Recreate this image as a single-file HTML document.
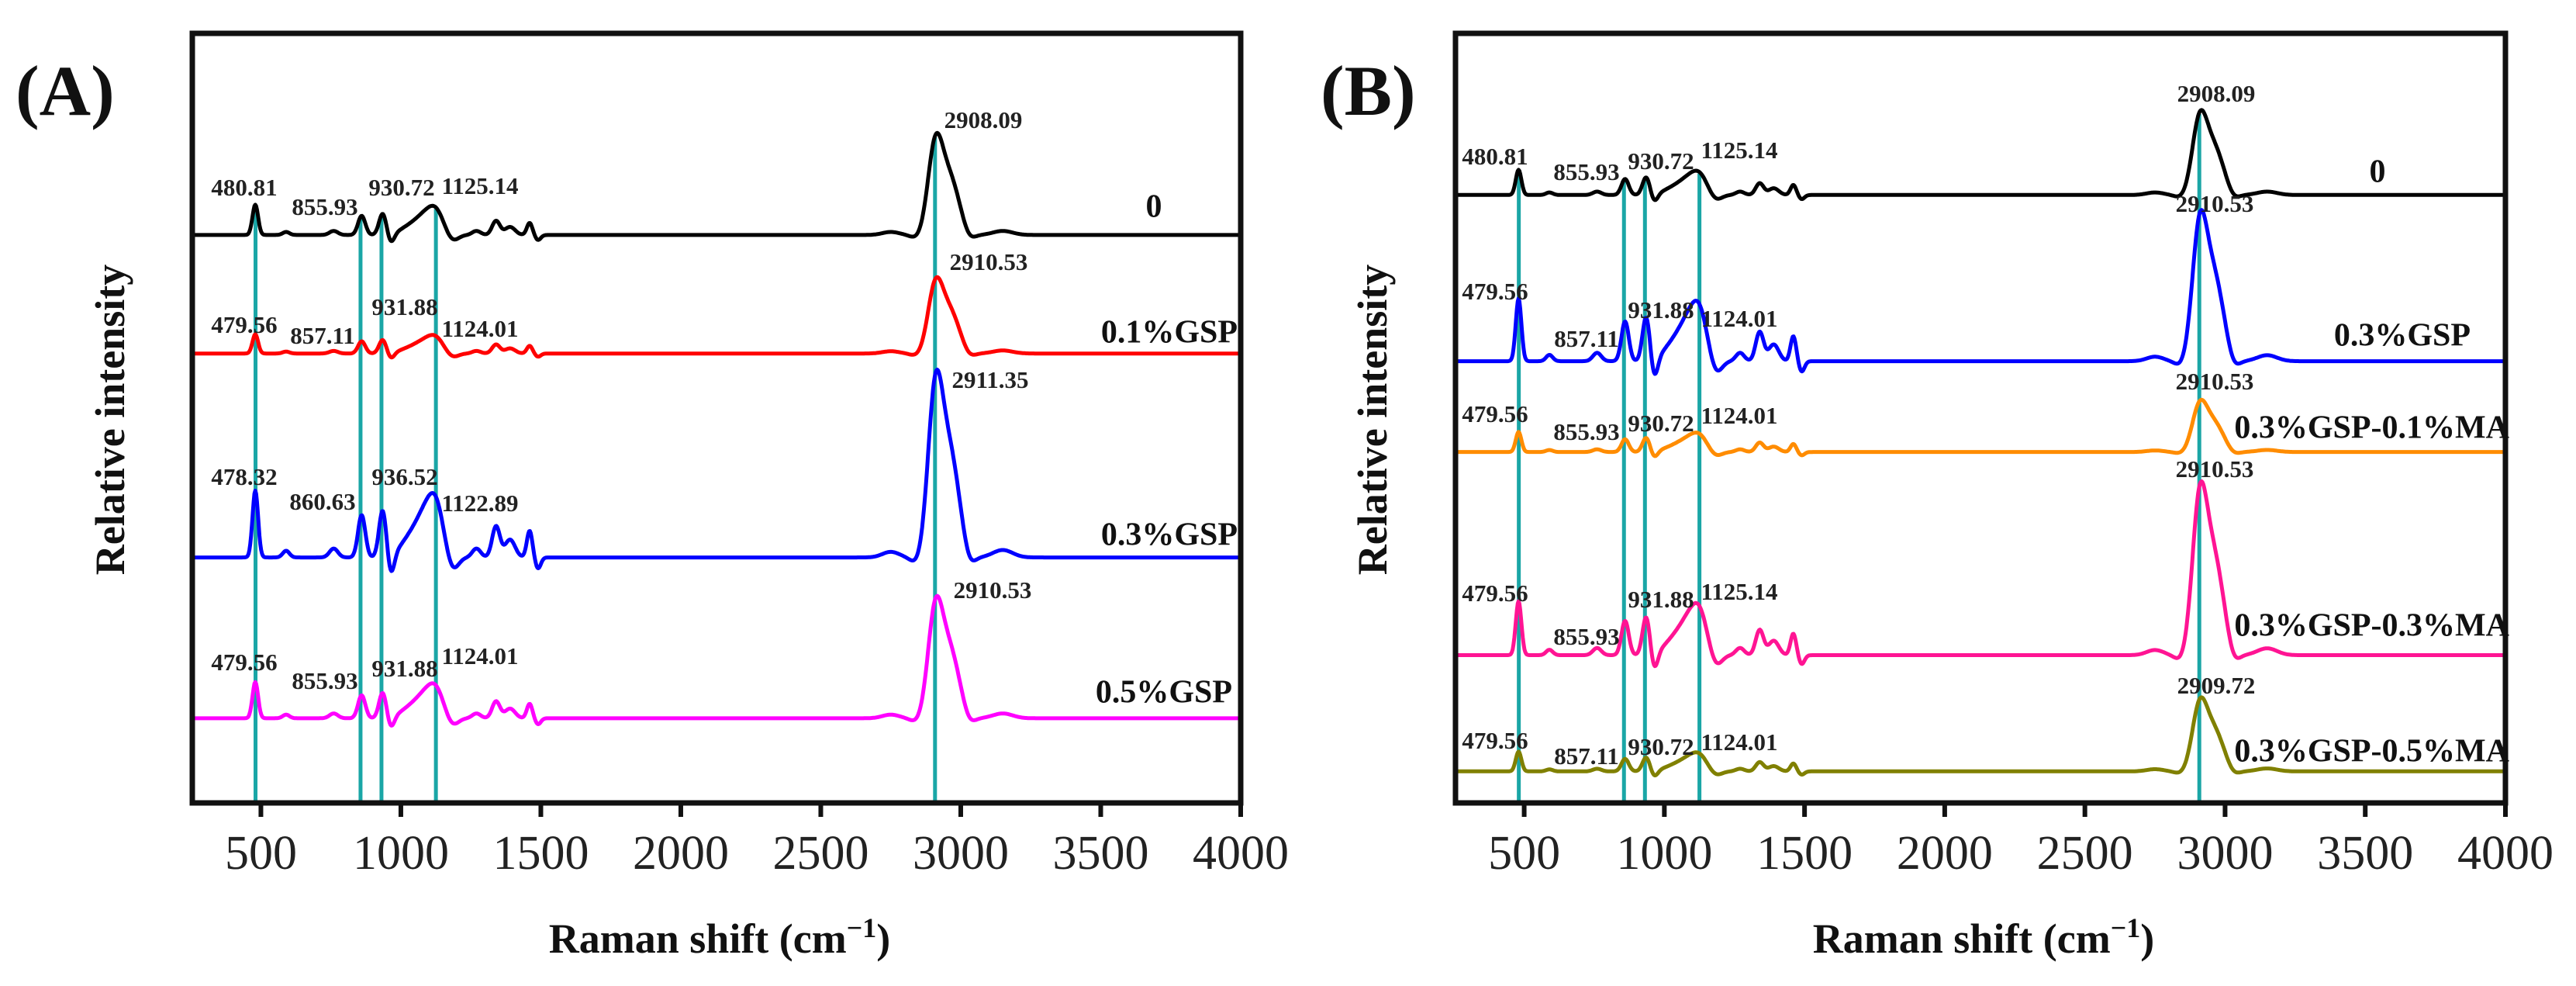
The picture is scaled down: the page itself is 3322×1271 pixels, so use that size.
<!DOCTYPE html>
<html><head><meta charset="utf-8"><style>
html,body{margin:0;padding:0;background:#fff}
svg{display:block}
text{font-family:"Liberation Serif",serif}
</style></head><body>
<svg id="chart" width="3322" height="1271" viewBox="0 0 3322 1271" xmlns="http://www.w3.org/2000/svg"></svg>
<script>
// ---- data ----
const peakPos   = [480, 590, 760, 860, 935, 965, 1040, 1100, 1130, 1185, 1270, 1340, 1390, 1460, 1490, 2750, 2840, 2908, 2960, 3030, 3150];
const peakWidth = [10, 12, 15, 13, 13, 12, 40, 35, 25, 20, 15, 14, 18, 10, 10, 30, 20, 26, 35, 20, 35];
const peakShape = [0.30, 0.03, 0.04, 0.19, 0.21, -0.09, 0.09, 0.19, 0.12, -0.06, 0.04, 0.14, 0.08, 0.12, -0.05, 0.03, -0.03, 0.80, 0.55, -0.06, 0.04];

const seriesA = ["0", "0.1%GSP", "0.3%GSP", "0.5%GSP"];
const baselineA = [73.8, 58.4, 31.9, 11.0];
const mainHeightA = [13.1, 9.8, 24.1, 15.7];
const fingerprintScaleA = [1.0, 0.85, 1.2, 1.0];
const colorsA = ["#000000", "#ff0000", "#0000ff", "#ff00ff"];

const seriesB = ["0", "0.3%GSP", "0.3%GSP-0.1%MA", "0.3%GSP-0.3%MA", "0.3%GSP-0.5%MA"];
const baselineB = [79.0, 57.4, 45.6, 19.2, 4.1];
const mainHeightB = [10.9, 19.4, 6.7, 22.3, 9.5];
const fingerprintScaleB = [1.0, 1.4, 1.3, 1.05, 0.9];
const colorsB = ["#000000", "#0000ff", "#ff8c00", "#ff1493", "#808000"];

const xTicks = [500, 1000, 1500, 2000, 2500, 3000, 3500, 4000];
const markerLines = [480.81, 855.93, 930.72, 1125.14, 2908.09];

const annA = [
 ["480.81",315,245],["855.93",419,270],["930.72",518,245],["1125.14",619,243],["2908.09",1268,158],
 ["479.56",315,422],["857.11",416,436],["931.88",522,399],["1124.01",619,427],["2910.53",1275,341],
 ["478.32",315,618],["860.63",416,650],["936.52",522,618],["1122.89",619,652],["2911.35",1277,493],
 ["479.56",315,857],["855.93",419,881],["931.88",522,865],["1124.01",619,849],["2910.53",1280,764]
];
const annB = [
 ["480.81",1928,205],["855.93",2046,225],["930.72",2142,211],["1125.14",2243,197],["2908.09",2858,124],
 ["479.56",1928,379],["857.11",2046,440],["931.88",2142,403],["1124.01",2243,414],["2910.53",2856,266],
 ["479.56",1928,537],["855.93",2046,560],["930.72",2142,549],["1124.01",2243,539],["2910.53",2856,495],
 ["479.56",1928,768],["855.93",2046,824],["931.88",2142,776],["1125.14",2243,766],["2910.53",2856,608],
 ["479.56",1928,958],["857.11",2046,978],["930.72",2142,966],["1124.01",2243,960],["2909.72",2858,887]
];
const labelPosA = [[1488,270,"middle"],[1596,432,"end"],[1596,693,"end"],[1589,896,"end"]];
const labelPosB = [[3066,225,"middle"],[3186,436,"end"],[3236,555,"end"],[3236,810,"end"],[3236,972,"end"]];

// ---- drawing ----
const NS = "http://www.w3.org/2000/svg";
const svg = document.getElementById("chart");
function mk(tag, attrs, parent){
  const e = document.createElementNS(NS, tag);
  for (const k in attrs) e.setAttribute(k, attrs[k]);
  (parent||svg).appendChild(e);
  return e;
}
const XMIN = 255, XMAX = 4000, TOP = 43, BOT = 1035;
function yScale(v){ return BOT - v/100*(BOT-TOP); }
function intensity(x, base, main, fp){
  let s = base;
  for (let i=0;i<peakPos.length;i++){
    const d = (x-peakPos[i])/peakWidth[i];
    const amp = peakShape[i]*main*(i<=14?fp:1);
    s += amp*Math.exp(-0.5*d*d);
  }
  return s;
}

function panel(id, L, R, series, base, mains, fps, colors, ann, labelPos, letter, letterX, yTitleX){
  const g = mk("g", {});
  
  
  const xs = v => L + (v-XMIN)/(XMAX-XMIN)*(R-L);
  markerLines.forEach((m,i)=>{
    const yTop = yScale(intensity(m, base[0], mains[0], fps[0])) + 2;
    const ln = mk("line", {x1:xs(m), x2:xs(m), y1:yTop, y2:BOT, stroke:"#1aa6a6", "stroke-width":5}, g);
    
    
  });
  series.forEach((name,si)=>{
    let d = "";
    for (let x=XMIN; x<=XMAX; x+=3){
      const y = yScale(intensity(x, base[si], mains[si], fps[si]));
      d += (d?"L":"M") + xs(x).toFixed(1) + "," + y.toFixed(1);
    }
    const p = mk("path", {d:d, fill:"none", stroke:colors[si], "stroke-width":5, "stroke-linejoin":"round"}, g);
    
    
    const lp = labelPos[si];
    const t = mk("text", {x:lp[0], y:lp[1], "text-anchor":lp[2], "dominant-baseline":"middle", "font-size":42, "font-weight":"bold", fill:"#111"}, g);
    t.textContent = name;
    
    
  });
  ann.forEach(a=>{
    const t = mk("text", {x:a[1], y:a[2], "text-anchor":"middle", "dominant-baseline":"middle", "font-size":31, "font-weight":"bold", fill:"#222"}, g);
    t.textContent = a[0];
    
    
  });
  const fr = mk("rect", {x:L, y:TOP, width:R-L, height:BOT-TOP, fill:"none", stroke:"#111", "stroke-width":7}, g);
  
  
  xTicks.forEach(v=>{
    const tk = mk("line", {x1:xs(v), x2:xs(v), y1:BOT, y2:BOT+18, stroke:"#111", "stroke-width":6}, g);
    
    
    const tl = mk("text", {x:xs(v), y:1120, "text-anchor":"middle", "font-size":62, fill:"#222"}, g);
    tl.textContent = v;
    
    
  });
  const xt = mk("text", {x:(L+R)/2+4, y:1228, "text-anchor":"middle", "font-size":54, "font-weight":"bold", fill:"#111"}, g);
  xt.innerHTML = 'Raman shift (cm<tspan dy="-20" font-size="36">−1</tspan><tspan dy="20">)</tspan>';
  
  
  const yt = mk("text", {x:0, y:0, transform:"translate("+(yTitleX)+",541) rotate(-90)", "text-anchor":"middle", "font-size":54, "font-weight":"bold", fill:"#111"}, g);
  yt.textContent = "Relative intensity";
  
  
  const lt = mk("text", {x:letterX, y:148, "font-size":92, "font-weight":"bold", fill:"#111"}, g);
  lt.textContent = letter;
  
  
}
panel("a", 248, 1600, seriesA, baselineA, mainHeightA, fingerprintScaleA, colorsA, annA, labelPosA, "(A)", 20, 160);
panel("b", 1877, 3231, seriesB, baselineB, mainHeightB, fingerprintScaleB, colorsB, annB, labelPosB, "(B)", 1703, 1788);
</script>
</body></html>
